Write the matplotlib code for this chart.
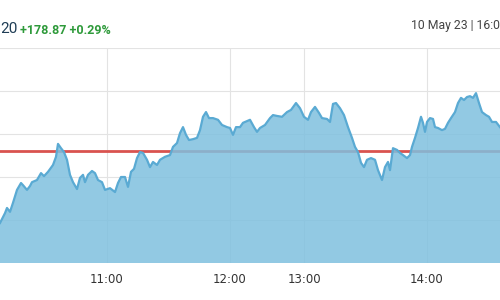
import matplotlib
matplotlib.use('Agg')
from matplotlib import pyplot as plt

# x position of each sample on the chart's time scale and index level
pos = [0, 5, 7, 10, 13, 17, 21, 23, 27, 30, 32, 37, 41, 44, 48, 53, 56, 58, 61, 64,
       67, 70, 73, 77, 80, 83, 85, 88, 92, 95, 98, 102, 105, 110, 115, 118, 121, 125,
       128, 131, 134, 137, 140, 143, 147, 150, 153, 157, 160, 165, 170, 173, 177, 180,
       183, 186, 189, 193, 197, 200, 203, 206, 209, 213, 218, 222, 227, 230, 233, 236,
       240, 243, 250, 254, 257, 260, 265, 270, 273, 277, 282, 287, 291, 296, 300, 304,
       308, 311, 315, 319, 322, 327, 330, 333, 336, 340, 344, 348, 352, 355, 358, 361,
       364, 367, 371, 375, 378, 382, 385, 388, 390, 393, 397, 400, 403, 407, 410, 412,
       415, 418, 421, 423, 425, 427, 430, 433, 435, 438, 442, 445, 448, 451, 455, 458,
       461, 464, 467, 470, 473, 476, 479, 482, 486, 489, 492, 496, 500]
level = [61593, 61616, 61628, 61619, 61640, 61670, 61686, 61681, 61670, 61679, 61688,
         61693, 61709, 61702, 61712, 61728, 61747, 61777, 61767, 61758, 61740, 61705,
         61688, 61672, 61698, 61705, 61688, 61705, 61714, 61709, 61693, 61688, 61670,
         61674, 61665, 61686, 61700, 61700, 61677, 61712, 61719, 61744, 61758, 61756,
         61740, 61723, 61735, 61728, 61740, 61747, 61751, 61770, 61779, 61802, 61816,
         61798, 61786, 61788, 61791, 61809, 61840, 61851, 61837, 61837, 61833, 61821,
         61816, 61814, 61798, 61816, 61816, 61826, 61833, 61816, 61805, 61814, 61821,
         61837, 61844, 61842, 61840, 61851, 61856, 61872, 61860, 61840, 61833, 61851,
         61863, 61849, 61837, 61835, 61828, 61870, 61872, 61860, 61844, 61816, 61791,
         61770, 61758, 61733, 61723, 61740, 61744, 61740, 61716, 61693, 61723, 61735,
         61716, 61767, 61763, 61756, 61751, 61744, 61751, 61770, 61791, 61814, 61840,
         61826, 61805, 61828, 61837, 61835, 61816, 61814, 61809, 61812, 61826, 61837,
         61851, 61872, 61884, 61879, 61886, 61888, 61884, 61895, 61872, 61851, 61844,
         61840, 61828, 61828, 61816]

prev_close = 61761.33
tick_pos = [107, 230, 304, 427]
tick_labels = ['11:00', '12:00', '13:00', '14:00']
y_grid = [61500, 61600, 61700, 61800, 61900, 62000]

fig = plt.figure(figsize=(5, 3), dpi=100)
ax = fig.add_axes([0, 37 / 300, 1, 215 / 300])
ax.set_xlim(0, 500)
ax.set_ylim(61500, 62000)

# grid
for g in y_grid:
    ax.axhline(g, color='#e3e3e3', lw=0.8, zorder=0)
for t in tick_pos:
    ax.axvline(t, color='#e3e3e3', lw=0.8, zorder=0)

# previous close
ax.axhline(prev_close, color='#d9534f', lw=2, zorder=1)

ax.fill_between(pos, level, 61500, color='#7fc0df', alpha=0.85, lw=0, zorder=2)
ax.plot(pos, level, color='#5aaad3', lw=1.6, zorder=3)

ax.set_xticks(tick_pos)
ax.set_xticklabels(tick_labels, fontsize=8.5, color='#333333')
ax.tick_params(axis='x', length=0, pad=7)
ax.set_yticks([])
for s in ax.spines.values():
    s.set_visible(False)

fig.text(0.5 / 500, 1 - 29 / 300, '20', fontsize=11, color='#1f3d55',
         ha='left', va='center', family='Roboto')
fig.text(20 / 500, 1 - 30 / 300, '+178.87 +0.29%', fontsize=9, color='#2e9a3a',
         ha='left', va='center', fontweight='bold', family='Roboto')
fig.text(411 / 500, 1 - 25 / 300, '10 May 23 | 16:0', fontsize=8.8, color='#444444',
         ha='left', va='center', family='Roboto')

fig.savefig('out.png', dpi=100)
